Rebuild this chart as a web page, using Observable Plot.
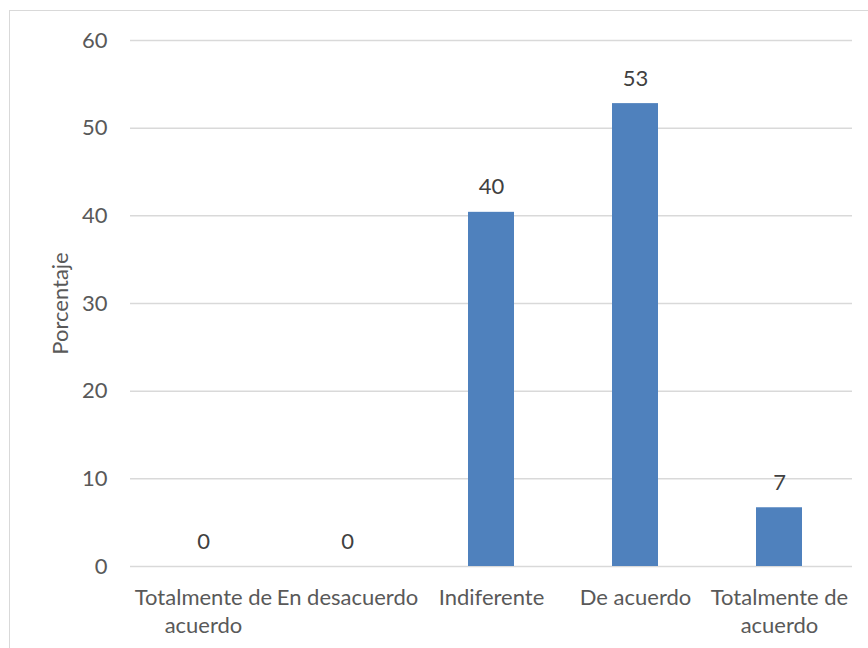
<!DOCTYPE html>
<html>
<head>
<meta charset="utf-8">
<script src="https://cdn.jsdelivr.net/npm/d3@7"></script>
<script src="https://cdn.jsdelivr.net/npm/@observablehq/plot@0.6"></script>
<style>
  html, body { margin: 0; padding: 0; background: #fff; }
  #wrap { position: relative; width: 868px; height: 648px; overflow: hidden; }
  #frame { position: absolute; left: 9px; top: 10px; width: 900px; height: 700px;
           border-top: 1.5px solid #d9d9d9; border-left: 1.5px solid #d9d9d9; box-sizing: border-box; }
  #chart { position: absolute; left: 0; top: 0; }
</style>
</head>
<body>
<div id="wrap"><div id="frame"></div><div id="chart"></div></div>
<script>
const categories = ["Totalmente de\nacuerdo", "En desacuerdo", "Indiferente", "De acuerdo", "Totalmente de\nacuerdo"];
const values = [0, 0, 40.4, 52.8, 6.7];
const valueLabels = ["0", "0", "40", "53", "7"];
const yTicks = [0, 10, 20, 30, 40, 50, 60];
const yLabel = "Porcentaje";

const data = categories.map((c, i) => ({i, c, v: values[i], t: valueLabels[i]}));
const font = "Lato, 'Liberation Sans', sans-serif";
const fs = 22;

const chart = Plot.plot({
  width: 868,
  height: 648,
  marginLeft: 130,
  marginRight: 16,
  marginTop: 40,
  marginBottom: 82,
  style: {fontFamily: font, fontSize: fs + "px", color: "#595959", background: "transparent"},
  x: {domain: d3.range(categories.length), paddingInner: 0.68, paddingOuter: 0.34, axis: null},
  y: {domain: [0, 60], axis: null},
  marks: [
    Plot.gridY(yTicks, {stroke: "#d9d9d9", strokeOpacity: 1, strokeWidth: 1.5}),
    Plot.barY(data, {x: "i", y: "v", fill: "#4f81bd"}),
    Plot.text(data, {x: "i", y: "v", text: "t", dy: -25, fill: "#404040", fontSize: fs, lineAnchor: "middle"}),
    Plot.axisY(yTicks, {tickSize: 0, tickPadding: 23, fontSize: fs, fill: "#595959", label: null}),
    Plot.axisX(d3.range(categories.length), {tickSize: 0, tickPadding: 18, fontSize: fs, fill: "#595959",
      lineHeight: 1.3, tickFormat: i => categories[i], label: null}),
    Plot.text([yLabel], {frameAnchor: "left", dx: -70, rotate: -90, textAnchor: "middle", fontSize: fs, fill: "#595959", text: d => d})
  ]
});
document.getElementById("chart").appendChild(chart);
</script>
</body>
</html>
